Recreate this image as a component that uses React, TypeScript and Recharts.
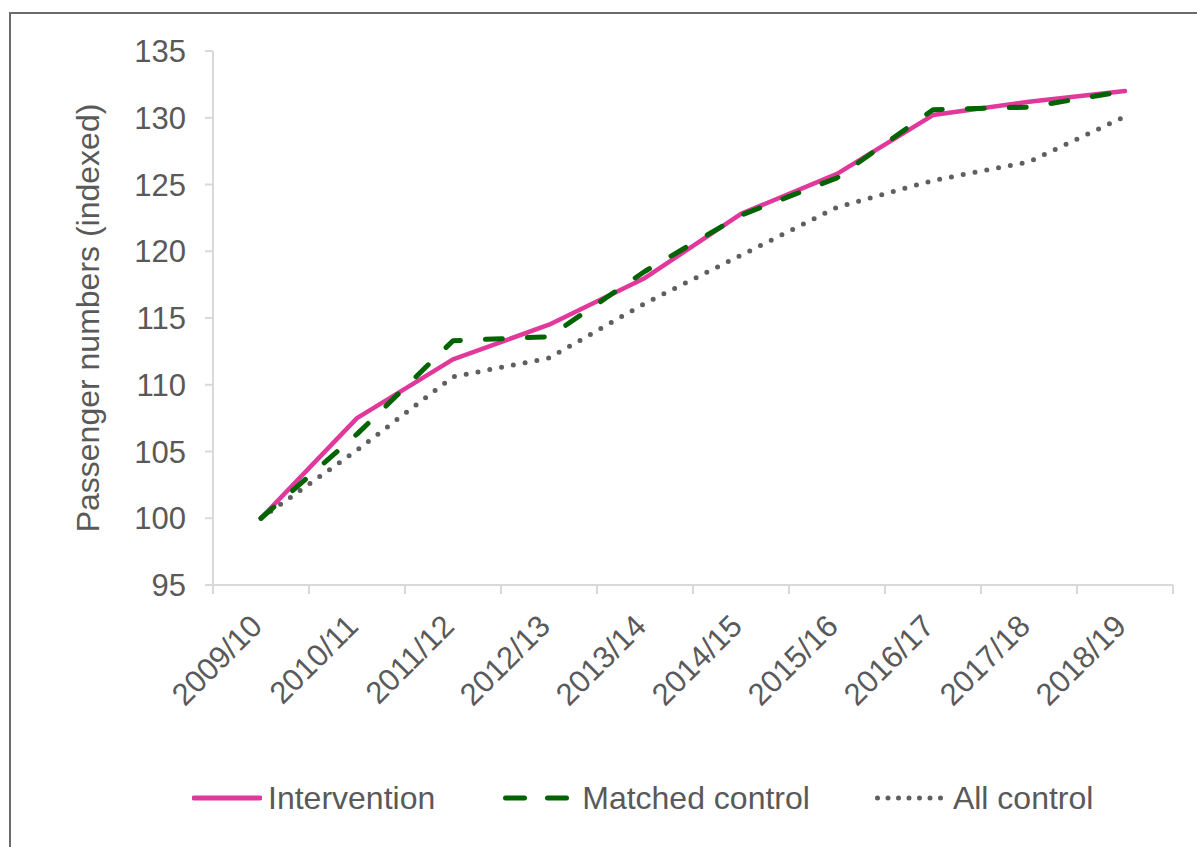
import { LineChart, Line, XAxis, YAxis, Legend } from 'recharts';

// category labels (financial years)
const years = [
  '2009/10',
  '2010/11',
  '2011/12',
  '2012/13',
  '2013/14',
  '2014/15',
  '2015/16',
  '2016/17',
  '2017/18',
  '2018/19',
];

// indexed passenger numbers, 2009/10 = 100
const intervention = [100, 107.5, 111.9, 114.5, 118.0, 122.8, 125.8, 130.2, 131.2, 132.0];
const matchedControl = [100, 106.3, 113.3, 113.6, 118.5, 122.7, 125.5, 130.6, 130.8, 132.0];
const allControl = [100, 105.1, 110.6, 112.0, 116.1, 119.7, 123.3, 125.3, 126.7, 130.1];

const yTicks = [95, 100, 105, 110, 115, 120, 125, 130, 135];

// category x positions: boundaries carry the tick marks, centres carry the labels
const boundaryTicks = years.map((_, i) => i).concat(years.length);
const centreTicks = years.map((_, i) => i + 0.5);

const data = years.map((year, i) => ({
  x: i + 0.5,
  year,
  intervention: intervention[i],
  matched: matchedControl[i],
  all: allControl[i],
}));

const TEXT = '#595959';
const AXIS = '#d9d9d9';
const PINK = '#e0399b';
const GREEN = '#006400';
const DOTS = '#5f5f5f';
const FONT = '"Liberation Sans", Arial, sans-serif';

function NoLabel() {
  return <g />;
}

function YearTick(props: any) {
  const { x, y, payload } = props;
  const label = years[Math.floor(payload.value)];
  const ax = x + 3;
  const ay = y + 42;
  return (
    <text
      x={ax}
      y={ay}
      textAnchor="end"
      transform={`rotate(-45 ${ax} ${ay})`}
      fontSize={31}
      fill={TEXT}
      fontFamily={FONT}
    >
      {label}
    </text>
  );
}

function YTitle(props: any) {
  const { viewBox } = props;
  const cx = viewBox.x + 88;
  const cy = viewBox.y + viewBox.height / 2;
  return (
    <text
      x={cx}
      y={cy}
      textAnchor="middle"
      dominantBaseline="central"
      transform={`rotate(-90 ${cx} ${cy})`}
      fontSize={32}
      fill={TEXT}
      fontFamily={FONT}
    >
      Passenger numbers (indexed)
    </text>
  );
}

function LegendIcon({ kind }: { kind: string }) {
  if (kind === 'solid') {
    return (
      <svg width={70} height={10}>
        <line x1={2} y1={5} x2={68} y2={5} stroke={PINK} strokeWidth={5} strokeLinecap="round" />
      </svg>
    );
  }
  if (kind === 'dash') {
    return (
      <svg width={66} height={10}>
        <line
          x1={2.5}
          y1={5}
          x2={63.5}
          y2={5}
          stroke={GREEN}
          strokeWidth={5}
          strokeDasharray="19 23"
          strokeLinecap="round"
        />
      </svg>
    );
  }
  return (
    <svg width={68} height={10}>
      <line
        x1={2.5}
        y1={5}
        x2={66}
        y2={5}
        stroke={DOTS}
        strokeWidth={5}
        strokeDasharray="0 10.5"
        strokeLinecap="round"
      />
    </svg>
  );
}

const legendItems = [
  { label: 'Intervention', kind: 'solid', before: 192, gap: 6 },
  { label: 'Matched control', kind: 'dash', before: 68, gap: 13 },
  { label: 'All control', kind: 'dot', before: 65, gap: 10 },
];

function renderLegend() {
  return (
    <div
      style={{
        height: 34,
        display: 'flex',
        alignItems: 'center',
        fontFamily: FONT,
        fontSize: 32,
        color: TEXT,
        lineHeight: '34px',
      }}
    >
      {legendItems.map((item) => (
        <div
          key={item.label}
          style={{ display: 'flex', alignItems: 'center', gap: item.gap, marginLeft: item.before }}
        >
          <LegendIcon kind={item.kind} />
          <span>{item.label}</span>
        </div>
      ))}
    </div>
  );
}

export default function App() {
  return (
    <div
      style={{
        position: 'absolute',
        left: 0,
        top: 0,
        width: 1197,
        height: 847,
        overflow: 'hidden',
        background: '#fff',
      }}
    >
      <div
        style={{
          position: 'absolute',
          left: 9,
          top: 12,
          width: 1300,
          height: 1000,
          border: '2px solid #6b6b6b',
        }}
      />
      <div style={{ position: 'absolute', left: 0, top: 0 }}>
        <LineChart
          width={1197}
          height={847}
          data={data}
          margin={{ top: 51, right: 24, bottom: 32, left: 0 }}
        >
          <XAxis
            xAxisId="a_marks"
            type="number"
            dataKey="x"
            domain={[0, years.length]}
            ticks={boundaryTicks}
            allowDataOverflow
            interval={0}
            height={1}
            tick={<NoLabel />}
            tickSize={9}
            tickLine={{ stroke: AXIS, strokeWidth: 2 }}
            axisLine={{ stroke: AXIS, strokeWidth: 2 }}
          />
          <XAxis
            xAxisId="b_labels"
            type="number"
            dataKey="x"
            domain={[0, years.length]}
            ticks={centreTicks}
            allowDataOverflow
            interval={0}
            height={195}
            tickSize={0}
            tickMargin={0}
            tickLine={false}
            axisLine={false}
            tick={<YearTick />}
          />
          <YAxis
            type="number"
            domain={[95, 135]}
            ticks={yTicks}
            interval={0}
            width={213}
            tickSize={8}
            tickMargin={19}
            tick={{ fill: TEXT, fontSize: 31, fontFamily: FONT }}
            tickLine={{ stroke: AXIS, strokeWidth: 2 }}
            axisLine={{ stroke: AXIS, strokeWidth: 2 }}
            label={<YTitle />}
          />
          <Legend
            verticalAlign="bottom"
            align="left"
            wrapperStyle={{ left: 0, width: 1197 }}
            content={renderLegend}
          />
          <Line
            xAxisId="b_labels"
            type="linear"
            dataKey="all"
            name="All control"
            stroke={DOTS}
            strokeWidth={5}
            strokeDasharray="0 12"
            strokeLinecap="round"
            dot={false}
            isAnimationActive={false}
          />
          <Line
            xAxisId="b_labels"
            type="linear"
            dataKey="intervention"
            name="Intervention"
            stroke={PINK}
            strokeWidth={4.5}
            strokeLinecap="round"
            strokeLinejoin="round"
            dot={false}
            isAnimationActive={false}
          />
          <Line
            xAxisId="b_labels"
            type="linear"
            dataKey="matched"
            name="Matched control"
            stroke={GREEN}
            strokeWidth={5}
            strokeDasharray="17 25"
            strokeLinecap="round"
            strokeLinejoin="round"
            dot={false}
            isAnimationActive={false}
          />
        </LineChart>
      </div>
    </div>
  );
}
